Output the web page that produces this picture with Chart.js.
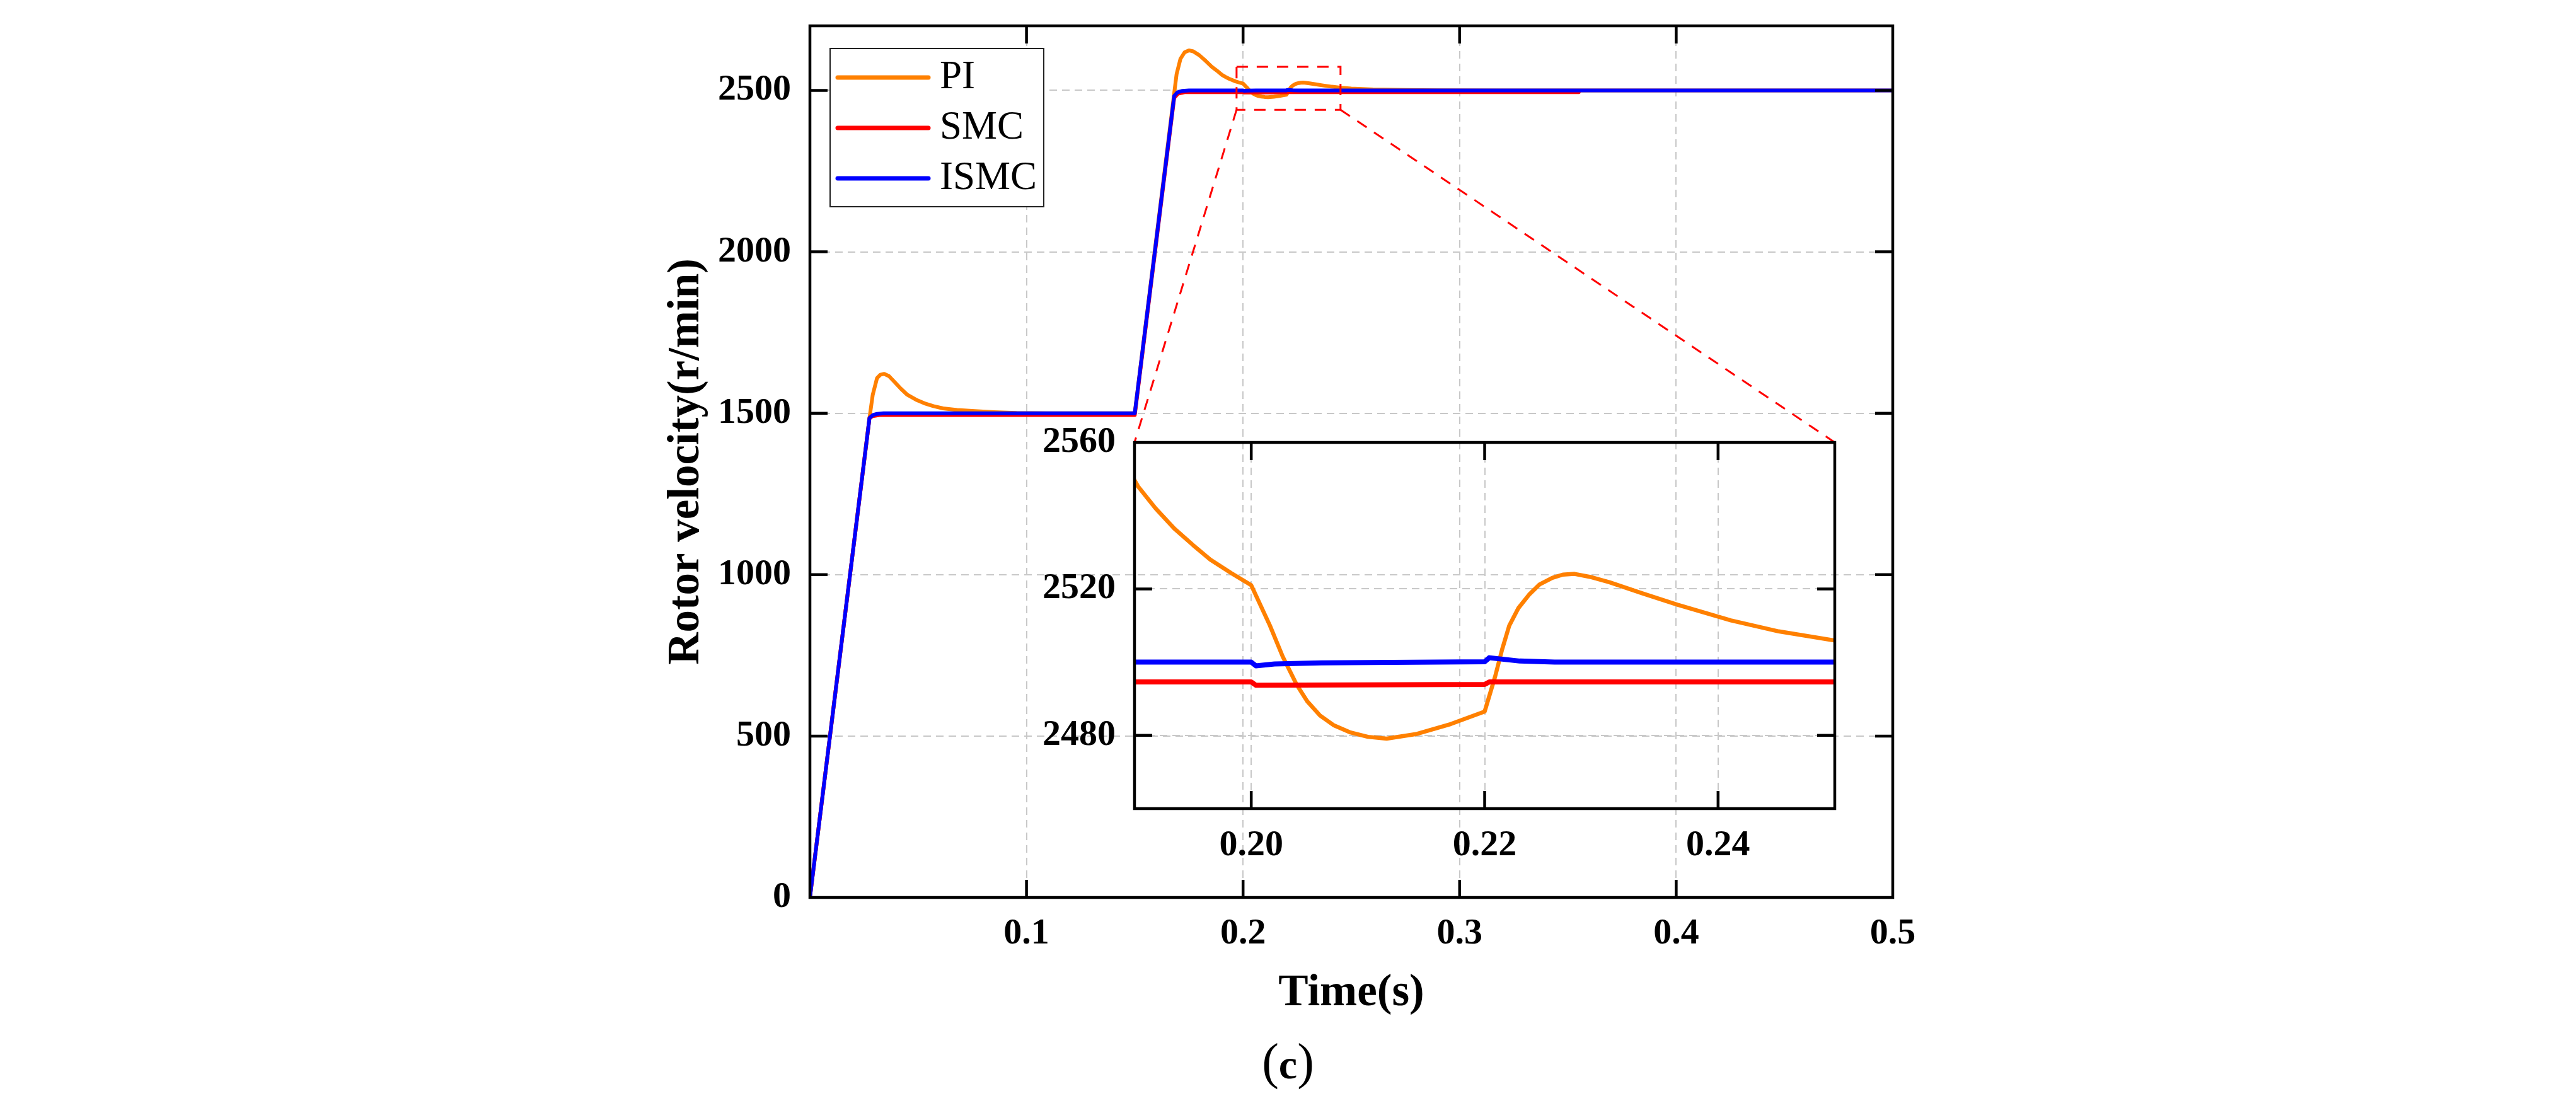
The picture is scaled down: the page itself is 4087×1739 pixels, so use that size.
<!DOCTYPE html>
<html>
<head>
<meta charset="utf-8">
<script src="https://cdn.jsdelivr.net/npm/chart.js@4.4.1/dist/chart.umd.min.js"></script>
<style>
  html, body { margin: 0; padding: 0; background: #fff; }
  #wrap { position: relative; width: 4087px; height: 1739px; }
  #wrap canvas { position: absolute; left: 0; top: 0; }
</style>
</head>
<body>
<div id="wrap">
  <canvas id="mainChart" width="4087" height="1739"></canvas>
  <canvas id="insetChart" width="4087" height="1739"></canvas>
</div>
<script>
// speed responses (time in s, speed in r/min)
const piTime = [0, 0.0275, 0.0290, 0.0310, 0.0325, 0.0343, 0.0365, 0.0392, 0.0420, 0.0450, 0.0490, 0.0528, 0.0570,
  0.0615, 0.0680, 0.0761, 0.0850, 0.0954, 0.1100, 0.1500, 0.1680, 0.1693, 0.1711, 0.1730, 0.1750, 0.1770, 0.1798,
  0.1828, 0.1856, 0.1885, 0.1903, 0.1918, 0.1934, 0.1950, 0.1965, 0.1983, 0.2000, 0.2016, 0.2027, 0.2039, 0.2048,
  0.2059, 0.2071, 0.2085, 0.2100, 0.2116, 0.2142, 0.2171, 0.2200, 0.2209, 0.2215, 0.2221, 0.2229, 0.2238, 0.2247,
  0.2258, 0.2267, 0.2277, 0.2290, 0.2307, 0.2335, 0.2365, 0.2411, 0.2452, 0.2500, 0.2600, 0.2750, 0.2900, 0.3200,
  0.5000];
const piSpeed = [0, 1485, 1557, 1609, 1619, 1622, 1615, 1596, 1576, 1557, 1542, 1531, 1522,
  1515, 1510, 1506.5, 1503.5, 1501, 1500, 1500, 2480, 2550, 2598, 2618, 2624, 2621, 2609,
  2591, 2573, 2558, 2548, 2542, 2536.5, 2532, 2528, 2524.3, 2521, 2510, 2501.5, 2493.8, 2489.3,
  2485.4, 2482.7, 2480.8, 2479.6, 2479.1, 2480.4, 2483.1, 2486.5, 2496.1, 2503.5, 2509.9, 2514.8, 2518.4, 2521.2,
  2523, 2523.9, 2524.1, 2523.3, 2521.8, 2518.8, 2515.7, 2511.4, 2508.4, 2505.9, 2503, 2501.3, 2500.6, 2500.1,
  2500];

const smcTime = [0, 0.0275, 0.0290, 0.0320, 0.1500, 0.1682, 0.1700, 0.1730, 0.2000, 0.2004, 0.2200, 0.2204, 0.3550];
const smcSpeed = [0, 1485, 1491, 1494.5, 1494.5, 2477, 2490, 2494.6, 2494.6, 2493.7, 2493.9, 2494.6, 2494.6];

const ismcTime = [0, 0.0275, 0.0290, 0.0310, 0.0340, 0.1500, 0.1682, 0.1697, 0.1720, 0.1750, 0.2000, 0.2004,
  0.2020, 0.2060, 0.2200, 0.2204, 0.2230, 0.2260, 0.5000];
const ismcSpeed = [0, 1485, 1494, 1498, 1500, 1500, 2483, 2494, 2498.5, 2500, 2500, 2499.0,
  2499.5, 2499.8, 2500.1, 2501.2, 2500.3, 2500, 2500];

const timeTicks = [0.1, 0.2, 0.3, 0.4, 0.5];
const speedTicks = [0, 500, 1000, 1500, 2000, 2500];
const insetTimeTicks = [0.20, 0.22, 0.24];
const insetSpeedTicks = [2480, 2520, 2560];
const insetTimeRange = [0.19, 0.25];
const insetSpeedRange = [2460, 2560];
// dashed box marking the zoomed region on the main plot
const zoomTime = [0.197, 0.245];
const zoomSpeed = [2440, 2573];

const SERIF = "'Liberation Serif', 'Times New Roman', serif";
const GRID = '#c8c8c8';

Chart.defaults.font.family = SERIF;
Chart.defaults.color = '#000';

function points(t, v) {
  return t.map((x, i) => ({ x: x, y: v[i] }));
}

function makeDatasets(widths) {
  return [
    { label: 'PI', data: points(piTime, piSpeed), borderColor: '#ff8000', order: 3 },
    { label: 'SMC', data: points(smcTime, smcSpeed), borderColor: '#ff0000', order: 2 },
    { label: 'ISMC', data: points(ismcTime, ismcSpeed), borderColor: '#0000ff', order: 1 },
  ].map((ds, i) => Object.assign(ds, {
    borderWidth: widths[i], pointRadius: 0, tension: 0, fill: false,
    borderJoinStyle: 'round', borderCapStyle: 'round',
  }));
}

// box frame with inward ticks on all four sides
const framePlugin = {
  id: 'frame',
  afterDatasetsDraw(chart) {
    const { ctx, chartArea: a, scales: { x, y } } = chart;
    const len = 28;
    ctx.save();
    ctx.strokeStyle = '#000';
    ctx.lineWidth = 4.5;
    ctx.beginPath();
    x.ticks.forEach(t => {
      const px = x.getPixelForValue(t.value);
      if (px < a.left + 3 || px > a.right - 3) return;
      ctx.moveTo(px, a.bottom); ctx.lineTo(px, a.bottom - len);
      ctx.moveTo(px, a.top); ctx.lineTo(px, a.top + len);
    });
    y.ticks.forEach(t => {
      const py = y.getPixelForValue(t.value);
      if (py < a.top + 3 || py > a.bottom - 3) return;
      ctx.moveTo(a.left, py); ctx.lineTo(a.left + len, py);
      ctx.moveTo(a.right, py); ctx.lineTo(a.right - len, py);
    });
    ctx.stroke();
    ctx.strokeRect(a.left, a.top, a.right - a.left, a.bottom - a.top);
    ctx.restore();
  }
};

function axisFont(size) {
  return { family: SERIF, size: size, weight: 'bold' };
}

function scaleOptions(opts) {
  return {
    type: 'linear',
    min: opts.range[0],
    max: opts.range[1],
    afterBuildTicks: s => { s.ticks = opts.ticks.map(v => ({ value: v })); },
    afterFit: s => {
      if (opts.width) s.width = opts.width;
      if (opts.height) s.height = opts.height;
      s.paddingLeft = s.paddingRight = s.paddingTop = s.paddingBottom = 0;
    },
    grid: { color: GRID, lineWidth: 2, drawTicks: false },
    border: { display: false, dash: [12, 8] },
    ticks: {
      padding: opts.pad, color: '#000', font: axisFont(58),
      maxRotation: 0, autoSkip: false, callback: opts.format,
    },
    title: opts.title ? {
      display: true, text: opts.title, color: '#000', font: axisFont(71), padding: 0,
    } : { display: false },
  };
}

const insetChart = new Chart(document.getElementById('insetChart'), {
  type: 'line',
  data: { datasets: makeDatasets([6.5, 8, 8]) },
  options: {
    responsive: false,
    animation: false,
    devicePixelRatio: 1,
    layout: { padding: { left: 1600, right: 1176, top: 702, bottom: 356 } },
    plugins: { legend: { display: false }, tooltip: { enabled: false } },
    scales: {
      x: scaleOptions({ range: insetTimeRange, ticks: insetTimeTicks, height: 100, pad: 24, format: v => v.toFixed(2) }),
      y: scaleOptions({ range: insetSpeedRange, ticks: insetSpeedTicks, width: 200, pad: 30, format: v => String(v) }),
    },
  },
  plugins: [framePlugin],
});

const zoomPlugin = {
  id: 'zoomBox',
  afterDatasetsDraw(chart) {
    const { ctx, scales: { x, y } } = chart;
    const x0 = x.getPixelForValue(zoomTime[0]);
    const x1 = x.getPixelForValue(zoomTime[1]);
    const yTop = y.getPixelForValue(zoomSpeed[1]);
    const yBot = y.getPixelForValue(zoomSpeed[0]);
    const area = insetChart.chartArea;
    ctx.save();
    ctx.strokeStyle = '#ff0000';
    ctx.lineWidth = 3;
    ctx.setLineDash([18, 14]);
    ctx.strokeRect(x0, yTop, x1 - x0, yBot - yTop);
    ctx.beginPath();
    ctx.moveTo(x0, yBot); ctx.lineTo(area.left, area.top);
    ctx.moveTo(x1, yBot); ctx.lineTo(area.right, area.top);
    ctx.stroke();
    ctx.restore();
  }
};

const legendPlugin = {
  id: 'boxLegend',
  afterDraw(chart) {
    const { ctx, chartArea } = chart;
    const left = chartArea.left + 32;
    const top = chartArea.top + 36;
    ctx.save();
    ctx.fillStyle = '#fff';
    ctx.fillRect(left, top, 339, 251);
    ctx.strokeStyle = '#222';
    ctx.lineWidth = 2;
    ctx.strokeRect(left, top, 339, 251);
    ctx.font = '63px ' + SERIF;
    ctx.textBaseline = 'middle';
    chart.data.datasets.forEach((ds, i) => {
      const cy = top + 46 + i * 80;
      ctx.strokeStyle = ds.borderColor;
      ctx.lineWidth = 7;
      ctx.lineCap = 'round';
      ctx.beginPath();
      ctx.moveTo(left + 12, cy);
      ctx.lineTo(left + 156, cy);
      ctx.stroke();
      ctx.fillStyle = '#000';
      ctx.fillText(ds.label, left + 174, cy);
    });
    ctx.restore();
  }
};

const captionPlugin = {
  id: 'caption',
  afterDraw(chart) {
    const { ctx } = chart;
    const parts = [
      { text: '(', font: '80px ' + SERIF },
      { text: 'c', font: 'bold 66px ' + SERIF },
      { text: ')', font: '80px ' + SERIF },
    ];
    let total = 0;
    parts.forEach(p => { ctx.font = p.font; p.w = ctx.measureText(p.text).width; total += p.w; });
    let x = chart.width / 2 - total / 2;
    ctx.save();
    ctx.fillStyle = '#000';
    ctx.textBaseline = 'alphabetic';
    parts.forEach(p => { ctx.font = p.font; ctx.fillText(p.text, x, 1711); x += p.w; });
    ctx.restore();
  }
};

new Chart(document.getElementById('mainChart'), {
  type: 'line',
  data: { datasets: makeDatasets([6, 6, 6]) },
  options: {
    responsive: false,
    animation: false,
    devicePixelRatio: 1,
    layout: { padding: { left: 1047, right: 1084, top: 41, bottom: 120 } },
    plugins: { legend: { display: false }, tooltip: { enabled: false } },
    scales: {
      x: scaleOptions({ range: [0, 0.5], ticks: timeTicks, height: 195, pad: 23, title: 'Time(s)', format: v => v.toFixed(1) }),
      y: scaleOptions({ range: [0, 2700], ticks: speedTicks, width: 238, pad: 30, title: 'Rotor velocity(r/min)', format: v => String(v) }),
    },
  },
  plugins: [framePlugin, zoomPlugin, legendPlugin, captionPlugin],
});
</script>
</body>
</html>
